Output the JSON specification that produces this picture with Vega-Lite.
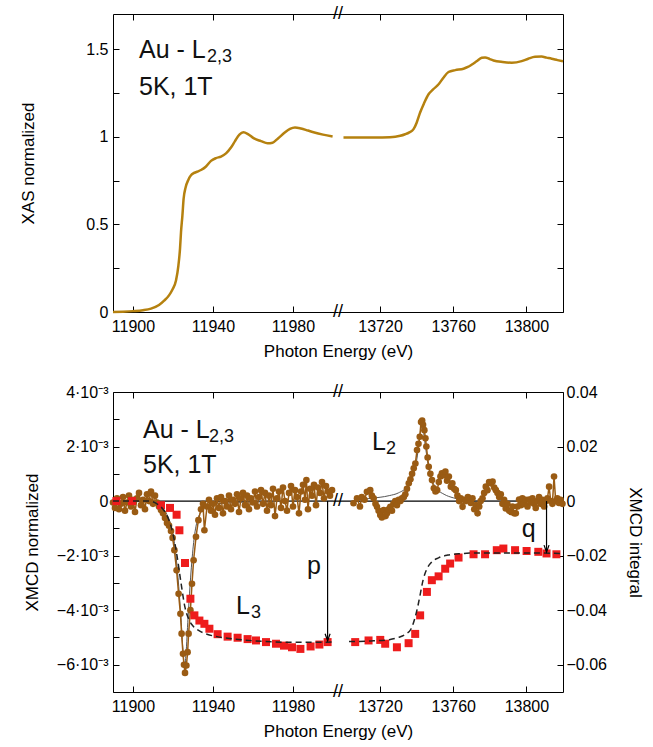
{
  "$schema": "https://vega.github.io/schema/vega-lite/v6.json",
  "padding": {"left": 19, "top": 5, "right": 5, "bottom": 5},
  "background": "white",
  "config": {
    "view": {"stroke": null},
    "axis": {"grid": false, "domainColor": "#000", "tickColor": "#000", "labelColor": "#000", "titleColor": "#000",
      "labelFont": "Liberation Sans", "titleFont": "Liberation Sans", "labelFontSize": 16, "titleFontSize": 17,
      "titleFontWeight": "normal", "tickSize": -6, "domainWidth": 1, "tickWidth": 1, "labelFlush": false, "labelOverlap": false},
    "text": {"font": "Liberation Sans"}
  },
  "datasets": {
    "xasL": [
      {"E":11890,"v":0},{"E":11895,"v":0.002},{"E":11900,"v":0.005},{"E":11905,"v":0.01},{"E":11909,"v":0.019},{"E":11913,"v":0.04},{"E":11915.7,"v":0.066},{"E":11918,"v":0.095},{"E":11919.8,"v":0.13},{"E":11921.5,"v":0.18},{"E":11922.7,"v":0.265},{"E":11923.5,"v":0.36},{"E":11924,"v":0.455},{"E":11924.7,"v":0.55},{"E":11925.3,"v":0.645},{"E":11926.3,"v":0.71},{"E":11927.7,"v":0.755},{"E":11929,"v":0.78},{"E":11930.3,"v":0.792},{"E":11932,"v":0.8},{"E":11934,"v":0.81},{"E":11936.5,"v":0.83},{"E":11939,"v":0.862},{"E":11941.5,"v":0.878},{"E":11944,"v":0.887},{"E":11946.5,"v":0.905},{"E":11949,"v":0.938},{"E":11951,"v":0.975},{"E":11953.2,"v":1.012},{"E":11955.2,"v":1.025},{"E":11957.5,"v":1.015},{"E":11960.5,"v":0.99},{"E":11964,"v":0.975},{"E":11967.3,"v":0.963},{"E":11969.8,"v":0.966},{"E":11972.5,"v":0.99},{"E":11975.7,"v":1.022},{"E":11978.5,"v":1.045},{"E":11981,"v":1.053},{"E":11984,"v":1.047},{"E":11987.5,"v":1.035},{"E":11990.7,"v":1.024},{"E":11995,"v":1.012},{"E":11999.8,"v":1.001}
    ],
    "xasR": [
      {"E":13700,"v":0.995},{"E":13707,"v":0.995},{"E":13714,"v":0.995},{"E":13721,"v":0.996},{"E":13728.3,"v":1.0},{"E":13731,"v":1.005},{"E":13733.7,"v":1.014},{"E":13736,"v":1.025},{"E":13738.3,"v":1.043},{"E":13740,"v":1.08},{"E":13741.9,"v":1.138},{"E":13744,"v":1.19},{"E":13746.5,"v":1.242},{"E":13749,"v":1.27},{"E":13752,"v":1.299},{"E":13754.5,"v":1.335},{"E":13757.4,"v":1.369},{"E":13761.1,"v":1.38},{"E":13765.6,"v":1.388},{"E":13768,"v":1.398},{"E":13770.2,"v":1.412},{"E":13773,"v":1.432},{"E":13775.6,"v":1.45},{"E":13777.4,"v":1.452},{"E":13780,"v":1.443},{"E":13782,"v":1.435},{"E":13787,"v":1.426},{"E":13792,"v":1.422},{"E":13797.4,"v":1.431},{"E":13801,"v":1.445},{"E":13804.7,"v":1.456},{"E":13808.3,"v":1.457},{"E":13811,"v":1.451},{"E":13813.8,"v":1.445},{"E":13817,"v":1.437},{"E":13820,"v":1.43}
    ],
    "annTopMain": [{"E":11903,"v":1.447,"t":"Au - L"},{"E":11903,"v":1.236,"t":"5K, 1T"}],
    "annTopSub": [{"E":11937,"v":1.425,"t":"2,3"}],
    "brkTop": [{"E":13697,"v":0,"t":"//"},{"E":13697,"v":1.7,"t":"//"}],
    "zeroL": [{"E":11890,"v":0},{"E":12002.5,"v":0}],
    "zeroR": [{"E":13697,"v":0},{"E":13820,"v":0}],
    "xmcdL": [
      {"E":11890,"v":-0.00005},{"E":11891,"v":-0.00025},{"E":11892,"v":0.0001},{"E":11893,"v":-0.0003},{"E":11894,"v":-0.0001},{"E":11895,"v":0.00015},{"E":11896,"v":-0.00035},{"E":11897,"v":-0.00005},{"E":11898,"v":0.0002},{"E":11899,"v":-0.0002},{"E":11900,"v":0.00005},{"E":11901,"v":-0.0004},{"E":11902,"v":0.0001},{"E":11903,"v":0.0003},{"E":11904,"v":-0.00015},{"E":11905,"v":0.00005},{"E":11906,"v":-0.0003},{"E":11907,"v":0.00025},{"E":11908,"v":0},{"E":11909,"v":0.00035},{"E":11910,"v":-0.0001},{"E":11911,"v":0.0002},{"E":11912,"v":-0.00005},{"E":11913,"v":-0.0002},{"E":11914,"v":-0.00033},{"E":11915,"v":-0.00045},{"E":11916,"v":-0.00062},{"E":11917,"v":-0.0008},{"E":11918,"v":-0.0009},{"E":11919,"v":-0.0011},{"E":11919.8,"v":-0.00135},{"E":11920.7,"v":-0.0018},{"E":11921.8,"v":-0.00254},{"E":11922.8,"v":-0.0034},{"E":11923.7,"v":-0.00413},{"E":11924.3,"v":-0.00486},{"E":11925,"v":-0.0056},{"E":11925.5,"v":-0.006},{"E":11926,"v":-0.0063},{"E":11926.7,"v":-0.00603},{"E":11927.3,"v":-0.00554},{"E":11927.8,"v":-0.00486},{"E":11928.7,"v":-0.004},{"E":11929.5,"v":-0.00303},{"E":11930.3,"v":-0.00217},{"E":11931.5,"v":-0.00131},{"E":11932.7,"v":-0.0007},{"E":11934,"v":-0.0003},{"E":11935,"v":-0.0001},{"E":11935.7,"v":-0.00107},{"E":11937,"v":-0.0002},{"E":11938,"v":0.00005},{"E":11939,"v":-0.00035},{"E":11940,"v":-0.0001},{"E":11941,"v":-0.0005},{"E":11942,"v":0.0001},{"E":11943,"v":-0.00025},{"E":11944,"v":0.00015},{"E":11945,"v":-0.00045},{"E":11946,"v":0},{"E":11947,"v":-0.0002},{"E":11948,"v":0.0002},{"E":11949,"v":-0.0003},{"E":11950,"v":0.00005},{"E":11951,"v":-0.0001},{"E":11952,"v":0.00025},{"E":11953,"v":-0.0004},{"E":11954,"v":0.0001},{"E":11955,"v":0.0003},{"E":11956,"v":-0.00015},{"E":11957,"v":0.0002},{"E":11958,"v":-0.0003},{"E":11959,"v":0.0001},{"E":11960,"v":-0.00005},{"E":11961,"v":0.00035},{"E":11962,"v":-0.0002},{"E":11963,"v":0.00015},{"E":11964,"v":0.0004},{"E":11965,"v":-0.0001},{"E":11966,"v":0.0003},{"E":11967,"v":-0.00035},{"E":11968,"v":0.0002},{"E":11969,"v":-0.00015},{"E":11970,"v":0.00045},{"E":11971,"v":-0.00055},{"E":11972,"v":0.0001},{"E":11973,"v":0.00035},{"E":11974,"v":-0.00025},{"E":11975,"v":0.0005},{"E":11976,"v":0},{"E":11977,"v":-0.00035},{"E":11978,"v":0.0003},{"E":11979,"v":0.00055},{"E":11980,"v":-0.0002},{"E":11981,"v":0.0004},{"E":11982,"v":0.00015},{"E":11983,"v":-0.00045},{"E":11984,"v":0.00035},{"E":11985,"v":0.0006},{"E":11986,"v":0.00005},{"E":11986.7,"v":0.00077},{"E":11987.5,"v":-0.0003},{"E":11988.5,"v":0.00045},{"E":11989.5,"v":0.0002},{"E":11990.5,"v":0.0006},{"E":11991.5,"v":-0.00015},{"E":11992.5,"v":0.0005},{"E":11993.5,"v":0.0003},{"E":11994.5,"v":0.0007},{"E":11995.5,"v":0.0001},{"E":11996.5,"v":0.00055},{"E":11997.5,"v":0.00035},{"E":11998.5,"v":0.0002},{"E":11999.5,"v":0.0004}
    ],
    "xmcdR": [
      {"E":13705.5,"v":-0.00008},{"E":13707.4,"v":0.0001},{"E":13709,"v":-0.0002},{"E":13710,"v":0.00015},{"E":13711.5,"v":0.00005},{"E":13712.8,"v":0.00034},{"E":13714.6,"v":0.0004},{"E":13715.5,"v":0.0002},{"E":13716.5,"v":0.0001},{"E":13717.5,"v":-0.0001},{"E":13718.3,"v":-0.00021},{"E":13719.2,"v":-0.00035},{"E":13720.1,"v":-0.00051},{"E":13721,"v":-0.0006},{"E":13722,"v":-0.00033},{"E":13723,"v":-0.00055},{"E":13723.8,"v":-0.00045},{"E":13724.7,"v":-0.0003},{"E":13725.6,"v":-0.00021},{"E":13726.5,"v":-0.00035},{"E":13727.3,"v":-0.0001},{"E":13728.3,"v":0},{"E":13729.2,"v":-0.00015},{"E":13730.2,"v":0.00005},{"E":13731.1,"v":0},{"E":13732,"v":0.0001},{"E":13733,"v":0.00015},{"E":13733.8,"v":0.00025},{"E":13734.7,"v":0.00045},{"E":13735.7,"v":0.00065},{"E":13736.6,"v":0.0008},{"E":13737.5,"v":0.001},{"E":13738.4,"v":0.0012},{"E":13739.3,"v":0.00138},{"E":13740.2,"v":0.00187},{"E":13741,"v":0.0021},{"E":13741.7,"v":0.00236},{"E":13742.4,"v":0.0029},{"E":13743,"v":0.00295},{"E":13743.5,"v":0.0028},{"E":13744.2,"v":0.0026},{"E":13744.8,"v":0.0023},{"E":13745.3,"v":0.002},{"E":13746,"v":0.0016},{"E":13746.6,"v":0.00126},{"E":13747.5,"v":0.001},{"E":13748.4,"v":0.00077},{"E":13749.4,"v":0.00047},{"E":13750.3,"v":0.00035},{"E":13751.2,"v":0.0004},{"E":13752.1,"v":0.0007},{"E":13753,"v":0.0009},{"E":13753.8,"v":0.00102},{"E":13754.8,"v":0.00095},{"E":13755.7,"v":0.00108},{"E":13756.6,"v":0.00075},{"E":13757.6,"v":0.0009},{"E":13758.7,"v":0.00053},{"E":13759.5,"v":0.00065},{"E":13760.5,"v":0.00045},{"E":13761.4,"v":0.0004},{"E":13762.3,"v":0.0002},{"E":13763.2,"v":0},{"E":13764.1,"v":0.0001},{"E":13765.1,"v":-0.00021},{"E":13766,"v":0.00005},{"E":13766.9,"v":0},{"E":13768,"v":0.00015},{"E":13769.6,"v":-0.00007},{"E":13770.5,"v":0.0001},{"E":13771.5,"v":-0.0003},{"E":13772.4,"v":-0.00015},{"E":13773.3,"v":-0.00045},{"E":13774.2,"v":-0.0002},{"E":13775,"v":0},{"E":13776,"v":0.0001},{"E":13776.9,"v":0.0003},{"E":13777.8,"v":0.00053},{"E":13778.7,"v":0.0004},{"E":13779.6,"v":0.0007},{"E":13780.5,"v":0.00065},{"E":13781.5,"v":0.00072},{"E":13782.4,"v":0.0005},{"E":13783.3,"v":0.0004},{"E":13784.2,"v":0.0003},{"E":13785.1,"v":0.00015},{"E":13786,"v":0.00025},{"E":13786.9,"v":-0.0001},{"E":13787.8,"v":0.00005},{"E":13788.7,"v":-0.00027},{"E":13789.6,"v":-0.0001},{"E":13790.6,"v":-0.00035},{"E":13791.5,"v":-0.0004},{"E":13792.4,"v":-0.0002},{"E":13793.3,"v":-0.00045},{"E":13794.2,"v":-0.00045},{"E":13795.1,"v":-0.0002},{"E":13796,"v":0.00006},{"E":13797,"v":-0.00015},{"E":13797.8,"v":0.0001},{"E":13798.7,"v":-0.0001},{"E":13799.6,"v":0.00005},{"E":13800.6,"v":-0.0002},{"E":13801.5,"v":0.00006},{"E":13802.4,"v":-0.00005},{"E":13803.3,"v":0.0001},{"E":13804.2,"v":-0.0001},{"E":13805.1,"v":-0.00025},{"E":13806,"v":0},{"E":13806.9,"v":0.00015},{"E":13807.8,"v":-0.0001},{"E":13808.8,"v":0.00005},{"E":13809.7,"v":-0.0002},{"E":13810.6,"v":0},{"E":13811.5,"v":0.0001},{"E":13812.4,"v":0.00053},{"E":13813.3,"v":0},{"E":13814.2,"v":-0.0001},{"E":13815.1,"v":0.0009},{"E":13816,"v":0},{"E":13816.9,"v":0.0001},{"E":13817.8,"v":-0.00007},{"E":13818.7,"v":0.00005},{"E":13819.7,"v":-0.0001}
    ],
    "fitL": [
      {"E":11890,"v":0},{"E":11905,"v":0},{"E":11910,"v":-0.00005},{"E":11914,"v":-0.0002},{"E":11917,"v":-0.0005},{"E":11919,"v":-0.0009},{"E":11921,"v":-0.0017},{"E":11922.5,"v":-0.0028},{"E":11924,"v":-0.0043},{"E":11925,"v":-0.0055},{"E":11925.8,"v":-0.0061},{"E":11926.5,"v":-0.0056},{"E":11927.5,"v":-0.0043},{"E":11929,"v":-0.0026},{"E":11930.5,"v":-0.0014},{"E":11932,"v":-0.00075},{"E":11934,"v":-0.0004},{"E":11937,"v":-0.0002},{"E":11945,"v":-0.00008},{"E":11960,"v":-0.00003},{"E":11980,"v":-0.00001},{"E":12000,"v":0}
    ],
    "fitR": [
      {"E":13705,"v":0.00002},{"E":13715,"v":0.0001},{"E":13725,"v":0.0002},{"E":13730,"v":0.0003},{"E":13735,"v":0.00055},{"E":13738,"v":0.00095},{"E":13740,"v":0.0015},{"E":13741.5,"v":0.0022},{"E":13742.5,"v":0.0027},{"E":13743.5,"v":0.0026},{"E":13745,"v":0.0019},{"E":13746.5,"v":0.00125},{"E":13748.5,"v":0.00075},{"E":13751,"v":0.00045},{"E":13755,"v":0.00025},{"E":13760,"v":0.00012},{"E":13765,"v":0.00005},{"E":13775,"v":0},{"E":13820,"v":0}
    ],
    "intL": [
      {"E":11891.7,"v":0},{"E":11899.5,"v":0},{"E":11914,"v":-0.0015},{"E":11918.5,"v":-0.0025},{"E":11921.8,"v":-0.005},{"E":11923.2,"v":-0.0107},{"E":11926,"v":-0.0227},{"E":11928.7,"v":-0.0358},{"E":11930.7,"v":-0.0419},{"E":11933.2,"v":-0.0438},{"E":11935.7,"v":-0.045},{"E":11938.2,"v":-0.0468},{"E":11942.3,"v":-0.0488},{"E":11947.3,"v":-0.0497},{"E":11952.3,"v":-0.0501},{"E":11957.3,"v":-0.0506},{"E":11961.5,"v":-0.0511},{"E":11966.5,"v":-0.0517},{"E":11971.5,"v":-0.0523},{"E":11975.5,"v":-0.053},{"E":11979.5,"v":-0.0536},{"E":11983.7,"v":-0.0542},{"E":11988.8,"v":-0.0533},{"E":11993.2,"v":-0.0526},{"E":11997.3,"v":-0.0517}
    ],
    "intR": [
      {"E":13706.4,"v":-0.0517},{"E":13713.7,"v":-0.0511},{"E":13720.1,"v":-0.0509},{"E":13722.8,"v":-0.0523},{"E":13729.2,"v":-0.0536},{"E":13735.6,"v":-0.0521},{"E":13739.2,"v":-0.0487},{"E":13741.9,"v":-0.0419},{"E":13745.6,"v":-0.0333},{"E":13748.3,"v":-0.029},{"E":13752,"v":-0.0276},{"E":13755.6,"v":-0.0248},{"E":13758.3,"v":-0.0229},{"E":13762.9,"v":-0.0207},{"E":13771.1,"v":-0.0195},{"E":13777.4,"v":-0.0195},{"E":13783.8,"v":-0.018},{"E":13787.4,"v":-0.0174},{"E":13793.8,"v":-0.018},{"E":13800.1,"v":-0.0183},{"E":13806.5,"v":-0.0186},{"E":13811,"v":-0.0192},{"E":13816.4,"v":-0.0195}
    ],
    "dashL": [
      {"E":11890,"v":0},{"E":11908,"v":0},{"E":11912,"v":-0.001},{"E":11915,"v":-0.003},{"E":11918,"v":-0.007},{"E":11920,"v":-0.012},{"E":11922,"v":-0.02},{"E":11924,"v":-0.03},{"E":11926,"v":-0.039},{"E":11928,"v":-0.0435},{"E":11930,"v":-0.0458},{"E":11933,"v":-0.0475},{"E":11937,"v":-0.0488},{"E":11942,"v":-0.0497},{"E":11950,"v":-0.0505},{"E":11960,"v":-0.0512},{"E":11970,"v":-0.0516},{"E":11980,"v":-0.0518},{"E":11990,"v":-0.0518},{"E":12000,"v":-0.0517}
    ],
    "dashR": [
      {"E":13703,"v":-0.0515},{"E":13715,"v":-0.0513},{"E":13725,"v":-0.0508},{"E":13730,"v":-0.05},{"E":13734,"v":-0.0488},{"E":13737,"v":-0.0468},{"E":13739,"v":-0.043},{"E":13740.5,"v":-0.039},{"E":13742,"v":-0.034},{"E":13743.5,"v":-0.029},{"E":13745.5,"v":-0.025},{"E":13748,"v":-0.0225},{"E":13752,"v":-0.0208},{"E":13757,"v":-0.0198},{"E":13763,"v":-0.0193},{"E":13775,"v":-0.019},{"E":13800,"v":-0.019},{"E":13820,"v":-0.0192}
    ],
    "arrowL": [{"E":11997.3,"v":0,"v2":-0.0512}],
    "arrowR": [{"E":13811,"v":0,"v2":-0.0187}],
    "annBLMain": [{"E":11905,"v":0.002305,"t":"Au - L"},{"E":11905,"v":0.00102,"t":"5K, 1T"},{"E":11951.5,"v":-0.00413,"t":"L"},{"E":11987,"v":-0.00268,"t":"p"}],
    "annBLSub": [{"E":11938,"v":0.00218,"t":"2,3"},{"E":11959,"v":-0.00427,"t":"3"}],
    "annBRMain": [{"E":13715.6,"v":0.001875,"t":"L"},{"E":13797.4,"v":-0.00131,"t":"q"}],
    "annBRSub": [{"E":13723.2,"v":0.00174,"t":"2"}],
    "brkBot": [{"E":13697,"v":0.04,"t":"//"},{"E":13697,"v":0,"t":"//"},{"E":13697,"v":-0.07,"t":"//"}]
  },
  "columns": 2,
  "spacing": {"row": 80, "column": 0},
  "bounds": "flush",
  "align": "each",
  "concat": [
    {
      "width": 225, "height": 298,
      "resolve": {"axis": {"x": "independent", "y": "independent"}},
      "layer": [
        {
          "encoding": {
            "x": {"field": "E", "type": "quantitative", "scale": {"domain": [11890, 12002.5], "nice": false, "zero": false},
              "axis": {"orient": "bottom", "values": [11900, 11940, 11980], "format": "d", "labelPadding": 12,
                "title": "Photon Energy (eV)", "titleAnchor": "end", "titleAlign": "center", "titlePadding": 9}},
            "y": {"field": "v", "type": "quantitative", "scale": {"domain": [0, 1.7], "nice": false, "zero": false},
              "axis": {"orient": "left", "values": [0, 0.25, 0.5, 0.75, 1, 1.25, 1.5],
                "labelExpr": "datum.value % 0.5 == 0 ? format(datum.value, '~g') : ''", "labelPadding": 11,
                "title": "XAS normalized", "titlePadding": 48}}
          },
          "layer": [
            {"data": {"name": "xasL"}, "mark": {"type": "line", "color": "#b5810f", "strokeWidth": 2.5, "interpolate": "monotone"}}
          ]
        },
        {
          "encoding": {
            "x": {"field": "E", "type": "quantitative", "scale": {"domain": [11890, 12002.5], "nice": false, "zero": false},
              "axis": {"orient": "top", "labels": false, "title": null, "values": [11900, 11940, 11980]}},
            "y": {"field": "v", "type": "quantitative", "scale": {"domain": [0, 1.7], "nice": false, "zero": false}, "axis": null}
          },
          "layer": [
            {"data": {"name": "annTopMain"}, "mark": {"type": "text", "align": "left", "baseline": "alphabetic", "fontSize": 25, "color": "#111"},
              "encoding": {"text": {"field": "t"}}},
            {"data": {"name": "annTopSub"}, "mark": {"type": "text", "align": "left", "baseline": "alphabetic", "fontSize": 18, "color": "#111"},
              "encoding": {"text": {"field": "t"}}}
          ]
        }
      ]
    },
    {
      "width": 225, "height": 298,
      "resolve": {"axis": {"x": "independent", "y": "independent"}},
      "layer": [
        {
          "encoding": {
            "x": {"field": "E", "type": "quantitative", "scale": {"domain": [13697, 13820], "nice": false, "zero": false},
              "axis": {"orient": "bottom", "values": [13720, 13760, 13800], "format": "d", "labelPadding": 12, "title": null}},
            "y": {"field": "v", "type": "quantitative", "scale": {"domain": [0, 1.7], "nice": false, "zero": false}, "axis": null}
          },
          "layer": [
            {"data": {"name": "xasR"}, "mark": {"type": "line", "color": "#b5810f", "strokeWidth": 2.5, "interpolate": "monotone"}}
          ]
        },
        {
          "encoding": {
            "x": {"field": "E", "type": "quantitative", "scale": {"domain": [13697, 13820], "nice": false, "zero": false},
              "axis": {"orient": "top", "labels": false, "title": null, "values": [13720, 13760, 13800]}},
            "y": {"field": "v", "type": "quantitative", "scale": {"domain": [0, 1.7], "nice": false, "zero": false},
              "axis": {"orient": "right", "labels": false, "title": null, "values": [0, 0.25, 0.5, 0.75, 1, 1.25, 1.5]}}
          },
          "layer": [
            {"data": {"name": "brkTop"}, "mark": {"type": "text", "align": "center", "baseline": "middle", "fontSize": 18, "color": "#000"},
              "encoding": {"text": {"field": "t"}}}
          ]
        }
      ]
    },
    {
      "width": 225, "height": 300,
      "resolve": {"scale": {"y": "independent"}, "axis": {"x": "independent", "y": "independent"}},
      "layer": [
        {
          "encoding": {
            "x": {"field": "E", "type": "quantitative", "scale": {"domain": [11890, 12002.5], "nice": false, "zero": false},
              "axis": {"orient": "bottom", "values": [11900, 11940, 11980], "format": "d", "labelPadding": 12,
                "title": "Photon Energy (eV)", "titleAnchor": "end", "titleAlign": "center", "titlePadding": 9}},
            "y": {"field": "v", "type": "quantitative", "scale": {"domain": [-0.007, 0.004], "nice": false, "zero": false},
              "axis": {"orient": "left", "values": [-0.007, -0.006, -0.005, -0.004, -0.003, -0.002, -0.001, 0, 0.001, 0.002, 0.003, 0.004],
                "labelExpr": "abs(round(datum.value*1000)) % 2 == 0 ? (round(datum.value*1000) == 0 ? '0' : format(round(datum.value*1000), 'd') + '·10⁻³') : ''",
                "labelPadding": 11, "title": "XMCD normalized", "titlePadding": 15}}
          },
          "layer": [
            {"data": {"name": "zeroL"}, "mark": {"type": "line", "color": "#000", "strokeWidth": 1.2}},
            {"data": {"name": "fitL"}, "mark": {"type": "line", "color": "#555", "strokeWidth": 1, "interpolate": "monotone"}},
            {"data": {"name": "xmcdL"}, "mark": {"type": "line", "color": "#9a5b13", "strokeWidth": 1.5}},
            {"data": {"name": "xmcdL"}, "mark": {"type": "point", "filled": true, "color": "#9a5b13", "size": 44, "opacity": 1}},
            {"data": {"name": "annBLMain"}, "mark": {"type": "text", "align": "left", "baseline": "alphabetic", "fontSize": 25, "color": "#111"},
              "encoding": {"text": {"field": "t"}}},
            {"data": {"name": "annBLSub"}, "mark": {"type": "text", "align": "left", "baseline": "alphabetic", "fontSize": 18, "color": "#111"},
              "encoding": {"text": {"field": "t"}}}
          ]
        },
        {
          "encoding": {
            "x": {"field": "E", "type": "quantitative", "scale": {"domain": [11890, 12002.5], "nice": false, "zero": false},
              "axis": {"orient": "top", "labels": false, "title": null, "values": [11900, 11940, 11980]}},
            "y": {"field": "v", "type": "quantitative", "scale": {"domain": [-0.07, 0.04], "nice": false, "zero": false}, "axis": null}
          },
          "layer": [
            {"data": {"name": "intL"}, "mark": {"type": "square", "filled": true, "color": "#ee1c1c", "size": 64, "opacity": 1}},
            {"data": {"name": "dashL"}, "mark": {"type": "line", "color": "#222", "strokeWidth": 1.5, "strokeDash": [6, 4], "interpolate": "monotone"}},
            {"data": {"name": "arrowL"}, "mark": {"type": "rule", "color": "#000", "strokeWidth": 1.2}, "encoding": {"y2": {"field": "v2"}}},
            {"data": {"name": "arrowL"}, "mark": {"type": "point", "shape": "M-0.5,-1.4L0,0L0.5,-1.4", "filled": false, "stroke": "#000", "strokeWidth": 1.2, "size": 100, "opacity": 1},
              "encoding": {"y": {"field": "v2", "type": "quantitative"}}}
          ]
        }
      ]
    },
    {
      "width": 225, "height": 300,
      "resolve": {"scale": {"y": "independent"}, "axis": {"x": "independent", "y": "independent"}},
      "layer": [
        {
          "encoding": {
            "x": {"field": "E", "type": "quantitative", "scale": {"domain": [13697, 13820], "nice": false, "zero": false},
              "axis": {"orient": "bottom", "values": [13720, 13760, 13800], "format": "d", "labelPadding": 12, "title": null}},
            "y": {"field": "v", "type": "quantitative", "scale": {"domain": [-0.007, 0.004], "nice": false, "zero": false}, "axis": null}
          },
          "layer": [
            {"data": {"name": "zeroR"}, "mark": {"type": "line", "color": "#000", "strokeWidth": 1.2}},
            {"data": {"name": "fitR"}, "mark": {"type": "line", "color": "#555", "strokeWidth": 1, "interpolate": "monotone"}},
            {"data": {"name": "xmcdR"}, "mark": {"type": "line", "color": "#9a5b13", "strokeWidth": 1.5}},
            {"data": {"name": "xmcdR"}, "mark": {"type": "point", "filled": true, "color": "#9a5b13", "size": 44, "opacity": 1}},
            {"data": {"name": "annBRMain"}, "mark": {"type": "text", "align": "left", "baseline": "alphabetic", "fontSize": 25, "color": "#111"},
              "encoding": {"text": {"field": "t"}}},
            {"data": {"name": "annBRSub"}, "mark": {"type": "text", "align": "left", "baseline": "alphabetic", "fontSize": 18, "color": "#111"},
              "encoding": {"text": {"field": "t"}}}
          ]
        },
        {
          "encoding": {
            "x": {"field": "E", "type": "quantitative", "scale": {"domain": [13697, 13820], "nice": false, "zero": false},
              "axis": {"orient": "top", "labels": false, "title": null, "values": [13720, 13760, 13800]}},
            "y": {"field": "v", "type": "quantitative", "scale": {"domain": [-0.07, 0.04], "nice": false, "zero": false},
              "axis": {"orient": "right", "values": [-0.06, -0.04, -0.02, 0, 0.02, 0.04],
                "labelExpr": "datum.value == 0 ? '0' : format(datum.value, '.2f')", "labelPadding": 9,
                "title": "XMCD integral", "titlePadding": 19}}
          },
          "layer": [
            {"data": {"name": "intR"}, "mark": {"type": "square", "filled": true, "color": "#ee1c1c", "size": 64, "opacity": 1}},
            {"data": {"name": "dashR"}, "mark": {"type": "line", "color": "#222", "strokeWidth": 1.5, "strokeDash": [6, 4], "interpolate": "monotone"}},
            {"data": {"name": "arrowR"}, "mark": {"type": "rule", "color": "#000", "strokeWidth": 1.2}, "encoding": {"y2": {"field": "v2"}}},
            {"data": {"name": "arrowR"}, "mark": {"type": "point", "shape": "M-0.5,-1.4L0,0L0.5,-1.4", "filled": false, "stroke": "#000", "strokeWidth": 1.2, "size": 100, "opacity": 1},
              "encoding": {"y": {"field": "v2", "type": "quantitative"}}},
            {"data": {"name": "brkBot"}, "mark": {"type": "text", "align": "center", "baseline": "middle", "fontSize": 18, "color": "#000"},
              "encoding": {"text": {"field": "t"}}}
          ]
        }
      ]
    }
  ]
}
